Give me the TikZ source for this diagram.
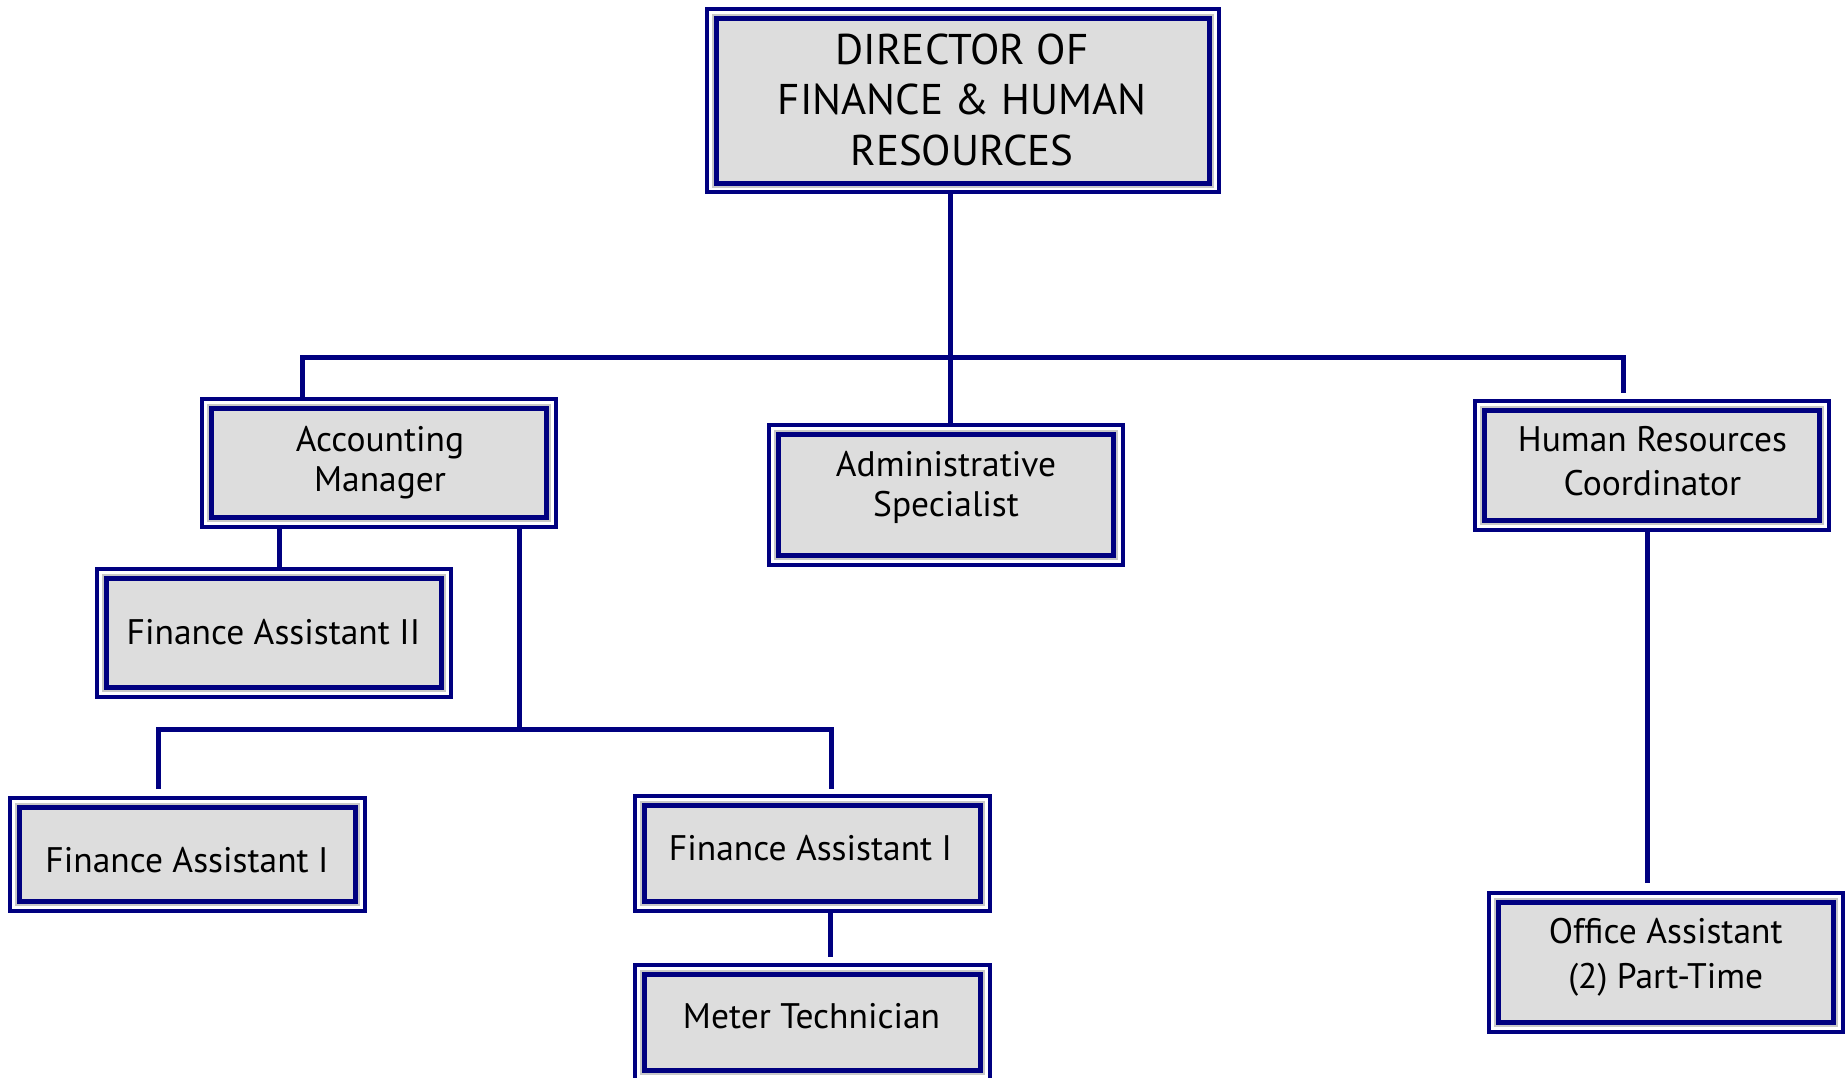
\documentclass[tikz,border=0pt]{standalone}
\usepackage{fontspec}
\setmainfont{PT Sans}
\definecolor{navy}{RGB}{0,0,128}
\definecolor{boxfill}{RGB}{221,221,221}
\definecolor{boxrim}{RGB}{200,200,200}
\newcommand\orglines[1]{\begin{tabular}[t]{@{}c@{}}#1\end{tabular}}
\tikzset{
  % double-framed position box: thin outer frame, white gap, thick inner frame
  orgbox/.style={draw=navy, line width=4pt, fill=white, inner sep=0pt, outer sep=0pt,
    path picture={
      \fill[boxrim] ([shift={(4.7pt,-4.7pt)}]path picture bounding box.north west)
        rectangle ([shift={(-4.7pt,4.7pt)}]path picture bounding box.south east);
      \draw[navy, line width=4.8pt, fill=boxfill]
        ([shift={(9.3pt,-9.3pt)}]path picture bounding box.north west)
        rectangle ([shift={(-9.3pt,9.3pt)}]path picture bounding box.south east);
    }},
  boxdim/.style n args={2}{minimum width=#1pt, minimum height=#2pt},
  lbl/.style={anchor=base, inner sep=0pt, text=black, font={\fontsize{35.5}{#1}\selectfont}},
  conn/.style={draw=navy, line width=5pt, line cap=butt, line join=miter},
}
\begin{document}
\begin{tikzpicture}[x=1pt, y=-1pt]
\useasboundingbox (0,0) rectangle (1845,1077);

% boxes
\node[orgbox, boxdim={511.5}{183.6}] (dir) at (962.8,100.6) {};
\node[orgbox, boxdim={354}{128}] (acc) at (379,463) {};
\node[orgbox, boxdim={354}{140}] (adm) at (946,495) {};
\node[orgbox, boxdim={354}{129}] (hr)  at (1652,465.5) {};
\node[orgbox, boxdim={354}{128}] (fa2) at (274,633) {};
\node[orgbox, boxdim={355}{113}] (faL) at (187.5,854.5) {};
\node[orgbox, boxdim={355}{115}] (faM) at (812.5,853.5) {};
\node[orgbox, boxdim={355}{115}] (met) at (812.5,1022.5) {};
\node[orgbox, boxdim={354}{139}] (off) at (1666,962.5) {};

% junction points of the connectors
\coordinate (busL) at (302,357);
\coordinate (busC) at (950.5,357);
\coordinate (busR) at (1623,357);
\coordinate (hrstub) at (1623,393);
\coordinate (jA) at (279,0);
\coordinate (jB) at (519,729);
\coordinate (bus2L) at (158,729);
\coordinate (bus2R) at (831,729);
\coordinate (stubL) at (158,789);
\coordinate (stubR) at (831,789);
\coordinate (jM) at (830,0);
\coordinate (metstub) at (830,957);
\coordinate (jH) at (1647,0);
\coordinate (offstub) at (1647,883);

% connectors
\draw[conn] (dir.south -| busC) -- (adm.north -| busC);
\draw[conn] (acc.north -| busL) |- (busR) -- (hrstub);
\draw[conn] (acc.south -| jA) -- (fa2.north -| jA);
\draw[conn] (acc.south -| jB) -- (jB);
\draw[conn] (stubL) -- (bus2L) -- (bus2R) -- (stubR);
\draw[conn] (faM.south -| jM) -- (metstub);
\draw[conn] (hr.south -| jH) -- (offstub);

% titles
\node[lbl={50}, font={\fontsize{43}{50.7}\selectfont}] (dirt) at (962,64.2)
  {\orglines{DIRECTOR OF\\FINANCE \& HUMAN\\RESOURCES}};
\node[lbl={40}] (acct) at (380,451.7) {\orglines{Accounting\\Manager}};
\node[lbl={40}] (admt) at (946,476.7) {\orglines{Administrative\\Specialist}};
\node[lbl={43.3}] (hrt) at (1652.5,451.7) {\orglines{Human Resources\\Coordinator}};
\node[lbl={40}] (fa2t) at (273.4,644) {Finance Assistant II};
\node[lbl={40}] (faLt) at (187,872.7) {Finance Assistant I};
\node[lbl={40}] (faMt) at (810.5,860) {Finance Assistant I};
\node[lbl={40}] (mett) at (811.5,1028) {Meter Technician};
\node[lbl={45}] (offt) at (1665.7,943.3) {\orglines{Office Assistant\\(2) Part-Time}};
\end{tikzpicture}
\end{document}
